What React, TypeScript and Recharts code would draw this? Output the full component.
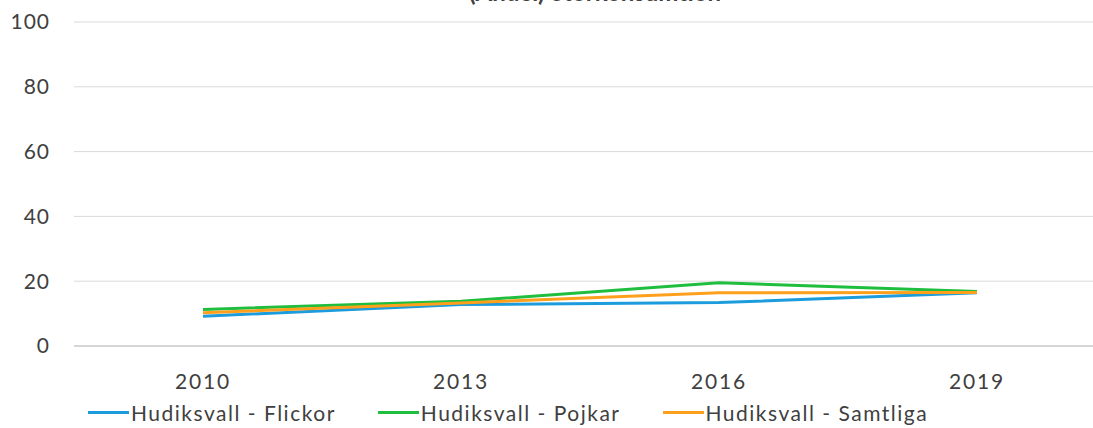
import React from 'react';
import {
  LineChart,
  Line,
  XAxis,
  YAxis,
  CartesianGrid,
  Legend,
} from 'recharts';

const years = ['2010', '2013', '2016', '2019'];
const flickor = [9.2, 12.8, 13.4, 16.4];
const pojkar = [11.3, 13.8, 19.5, 16.8];
const samtliga = [10.3, 13.3, 16.4, 16.5];
const yTicks = [0, 20, 40, 60, 80, 100];

const seriesNames = [
  'Hudiksvall - Flickor',
  'Hudiksvall - Pojkar',
  'Hudiksvall - Samtliga',
];
const colors = ['#1c9cdc', '#1fbe3e', '#ffa01c'];

const FONT = 'Lato, "Open Sans", sans-serif';
const TEXT = '#404040';

const data = years.map((year, i) => ({
  year,
  flickor: flickor[i],
  pojkar: pojkar[i],
  samtliga: samtliga[i],
}));

const keys = ['flickor', 'pojkar', 'samtliga'];

function CustomLegend() {
  return (
    <div
      style={{
        display: 'flex',
        alignItems: 'center',
        paddingLeft: 88,
        height: 32,
        fontFamily: FONT,
        fontSize: 21,
        letterSpacing: 1.5,
        color: TEXT,
        whiteSpace: 'nowrap',
      }}
    >
      {seriesNames.map((name, i) => (
        <div
          key={name}
          style={{ display: 'flex', alignItems: 'center', marginRight: 42 }}
        >
          <div
            style={{
              width: 41,
              height: 3,
              backgroundColor: colors[i],
              marginRight: 2,
            }}
          />
          <span>{name}</span>
        </div>
      ))}
    </div>
  );
}

export default function App() {
  return (
    <div
      style={{
        position: 'absolute',
        left: 0,
        top: 0,
        width: 1093,
        height: 428,
        overflow: 'hidden',
        background: '#fff',
      }}
    >
      {/* title is clipped at the top edge, as in the source image */}
      <svg
        width={1093}
        height={20}
        style={{ position: 'absolute', left: 0, top: 0, pointerEvents: 'none' }}
      >
        <text
          x={595}
          y={1}
          textAnchor='middle'
          fontFamily={FONT}
          fontWeight='bold'
          fontSize={24}
          fill={TEXT}
        >
          (Andel) Storkonsumtion
        </text>
      </svg>
      <LineChart
        width={1110}
        height={428}
        data={data}
        margin={{ top: 22, right: 4, bottom: 0, left: 14 }}
      >
        <CartesianGrid vertical={false} stroke='#d9d9d9' strokeWidth={1} />
        <XAxis
          dataKey='year'
          axisLine={{ stroke: '#bfbfbf', strokeWidth: 1 }}
          tickLine={false}
          tickMargin={22}
          height={50}
          padding={{ left: 129, right: 129 }}
          tick={{ fill: TEXT, fontSize: 21, fontFamily: FONT, letterSpacing: 1.8 }}
        />
        <YAxis
          domain={[0, 100]}
          ticks={yTicks}
          width={60}
          axisLine={false}
          tickLine={false}
          tickMargin={18}
          tick={{ fill: TEXT, fontSize: 21, fontFamily: FONT, letterSpacing: 1 }}
        />
        <Legend
          verticalAlign='bottom'
          height={32}
          content={<CustomLegend />}
          wrapperStyle={{ left: 0, width: 1110 }}
        />
        {keys.map((key, i) => (
          <Line
            key={key}
            type='linear'
            dataKey={key}
            name={seriesNames[i]}
            stroke={colors[i]}
            strokeWidth={3}
            dot={false}
            isAnimationActive={false}
          />
        ))}
      </LineChart>
    </div>
  );
}
